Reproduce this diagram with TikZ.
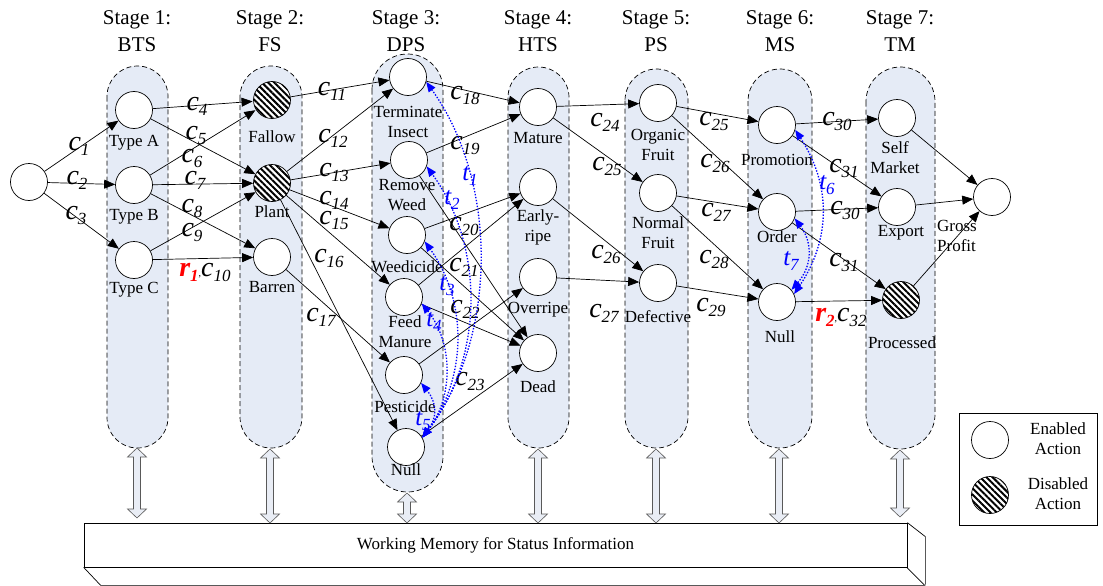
\documentclass[tikz,border=0pt]{standalone}
\usepackage{fontspec}
\setmainfont{Liberation Serif}
\usepackage{xcolor}
\usetikzlibrary{arrows.meta,patterns.meta}
\definecolor{lanefill}{RGB}{229,235,246}
\definecolor{arrfill}{RGB}{233,237,245}
\newcommand{\clab}[1]{{\fontsize{28}{28}\selectfont\itshape c}\raisebox{-5pt}{\fontsize{17}{17}\selectfont\itshape #1}}
\newcommand{\rlab}[1]{{\color{red}\bfseries\itshape{\fontsize{28}{28}\selectfont r}\raisebox{-5pt}{\fontsize{17}{17}\selectfont #1}}}
\newcommand{\tlab}[1]{{\color{blue}{\fontsize{25}{25}\selectfont\itshape t}\raisebox{-5pt}{\fontsize{17}{17}\selectfont\itshape #1}}}

\begin{document}
\begin{tikzpicture}[x=1pt,y=-1pt,
	lane/.style={draw,dash pattern=on 5pt off 3pt,fill=lanefill,line width=0.7pt},
	act/.style={circle,draw,fill=white,minimum size=37pt,inner sep=0pt,line width=0.7pt},
	off/.style={act,preaction={fill=white},pattern={Lines[angle=-45,distance=4.4pt,line width=2pt]}},
	lbl/.style={font=\fontsize{17}{20}\selectfont,align=center,inner sep=0pt},
	head/.style={font=\fontsize{21}{27}\selectfont,align=center,inner sep=0pt},
	flow/.style={-{Triangle[length=11pt,width=9pt]},line width=0.7pt},
	tie/.style={blue,line width=1.3pt,dash pattern=on 1.4pt off 1.6pt,{Triangle[length=10pt,width=8pt]}-{Triangle[length=10pt,width=8pt]}},
	memarr/.style={draw=black!65,fill=arrfill,line width=0.6pt}]
	\useasboundingbox (0,0) rectangle (1103,586);
% stage lanes
	\foreach \xa/\xb/\ya/\yb/\r in {107/168/66/448/30.5,240/302/66/448/31,372/443/54/492/35.5,508/569/67/448/30.5,625/688/69/448/31.5,748/812/69/448/32,866/935/67/449/34.5}
		\draw[lane,rounded corners=\r pt] (\xa,\ya) rectangle (\xb,\yb);
% stage titles
	\node[head] (st1) at (137,31) {Stage 1:\\BTS};
	\node[head] (st2) at (270,31) {Stage 2:\\FS};
	\node[head] (st3) at (406,31) {Stage 3:\\DPS};
	\node[head] (st4) at (538,31) {Stage 4:\\HTS};
	\node[head] (st5) at (656,31) {Stage 5:\\PS};
	\node[head] (st6) at (780,31) {Stage 6:\\MS};
	\node[head] (st7) at (900,31) {Stage 7:\\TM};
% working memory
	\node[draw,lbl,minimum width=823pt,minimum height=44pt,line width=0.7pt] (mem) at (495.5,545) {Working Memory for Status Information};
	\draw[line width=0.7pt] (mem.south west) -- ++(17,18) -- ++(824,0) -- ++(-18,-18);
	\draw[line width=0.7pt] (mem.north east) -- ++(18,14) -- ++(0,48);
	\foreach \x/\a/\b in {137/448/518,270/449/523,407/493/523,538/449/523,656/449/523,779/449/523,900/450/517}
		\draw[memarr] (\x,\a) -- (\x+9.5,\a+9) -- (\x+3.5,\a+9) -- (\x+3.5,\b-9) -- (\x+9.5,\b-9) -- (\x,\b) -- (\x-9.5,\b-9) -- (\x-3.5,\b-9) -- (\x-3.5,\a+9) -- (\x-9.5,\a+9) -- cycle;
% actions
	\node[act] (s0) at (29,182) {};
	\node[act] (tA) at (134,110) {};
	\node[act] (tB) at (134,185) {};
	\node[act] (tC) at (134,260) {};
	\node[off] (fal) at (272,100) {};
	\node[off] (pla) at (272,183) {};
	\node[act] (bar) at (272,257) {};
	\node[act] (d1) at (408,77) {};
	\node[act] (d2) at (409,160) {};
	\node[act] (d3) at (407,235) {};
	\node[act] (d4) at (404,297) {};
	\node[act] (d5) at (404,375) {};
	\node[act] (d6) at (406,447) {};
	\node[act] (h1) at (538,107) {};
	\node[act] (h2) at (538,187) {};
	\node[act] (h3) at (538,277) {};
	\node[act] (h4) at (538,353) {};
	\node[act] (p1) at (658,103) {};
	\node[act] (p2) at (658,193) {};
	\node[act] (p3) at (658,283) {};
	\node[act] (m1) at (777,125) {};
	\node[act] (m2) at (777,212) {};
	\node[act] (m3) at (777,302) {};
	\node[act] (k1) at (897,118) {};
	\node[act] (k2) at (897,207) {};
	\node[off] (k3) at (901,300) {};
	\node[act] (g) at (992,197) {};
% action names
	\node[lbl] (tAl) at (134,143) {Type A};
	\node[lbl] (tBl) at (134,217) {Type B};
	\node[lbl] (tCl) at (134,290) {Type C};
	\node[lbl] (fall) at (272,137) {Fallow};
	\node[lbl] (plal) at (272,212) {Plant};
	\node[lbl] (barl) at (272,287) {Barren};
	\node[lbl] (d1l) at (408,122) {Terminate\\Insect};
	\node[lbl] (d2l) at (407,195) {Remove\\Weed};
	\node[lbl] (d3l) at (407,267) {Weedicide};
	\node[lbl] (d4l) at (405,332) {Feed\\Manure};
	\node[lbl] (d5l) at (405,407) {Pesticide};
	\node[lbl] (d6l) at (406,470) {Null};
	\node[lbl] (h1l) at (538,138) {Mature};
	\node[lbl] (h2l) at (538,227) {Early-\\ripe};
	\node[lbl] (h3l) at (538,310) {Overripe};
	\node[lbl] (h4l) at (538,387) {Dead};
	\node[lbl] (p1l) at (658,145) {Organic\\Fruit};
	\node[lbl] (p2l) at (658,233) {Normal\\Fruit};
	\node[lbl] (p3l) at (658,317) {Defective};
	\node[lbl] (m1l) at (777,160) {Promotion};
	\node[lbl] (m2l) at (777,237) {Order};
	\node[lbl] (m3l) at (780,337) {Null};
	\node[lbl] (k1l) at (895,158) {Self\\Market};
	\node[lbl] (k2l) at (901,233) {Export};
	\node[lbl] (k3l) at (902,343) {Processed};
	\node[lbl,align=left] (gl) at (957,236) {Gross\\Profit};
% choices
	\draw[flow] (s0) -- (tA);
	\draw[flow] (s0) -- (tB);
	\draw[flow] (s0) -- (tC);
	\draw[flow] (tA) -- (fal);
	\draw[flow] (tA) -- (pla);
	\draw[flow] (tB) -- (fal);
	\draw[flow] (tB) -- (pla);
	\draw[flow] (tB) -- (bar);
	\draw[flow] (tC) -- (pla);
	\draw[flow] (tC) -- (bar);
	\draw[flow] (fal) -- (d1);
	\draw[flow] (pla) -- (d1);
	\draw[flow] (pla) -- (d2);
	\draw[flow] (pla) -- (d3);
	\draw[flow] (pla) -- (d4);
	\draw[flow] (pla) -- (d6);
	\draw[flow] (bar) -- (d5);
	\draw[flow] (d1) -- (h1);
	\draw[flow] (d2) -- (h1);
	\draw[flow] (d2) -- (h4);
	\draw[flow] (d3) -- (h2);
	\draw[flow] (d3) -- (h4);
	\draw[flow] (d4) -- (h2);
	\draw[flow] (d4) -- (h4);
	\draw[flow] (d5) -- (h3);
	\draw[flow] (d6) -- (h4);
	\draw[flow] (h1) -- (p1);
	\draw[flow] (h1) -- (p2);
	\draw[flow] (h2) -- (p3);
	\draw[flow] (h3) -- (p3);
	\draw[flow] (p1) -- (m1);
	\draw[flow] (p1) -- (m2);
	\draw[flow] (p2) -- (m2);
	\draw[flow] (p2) -- (m3);
	\draw[flow] (p3) -- (m3);
	\draw[flow] (m1) -- (k1);
	\draw[flow] (m1) -- (k2);
	\draw[flow] (m2) -- (k2);
	\draw[flow] (m2) -- (k3);
	\draw[flow] (m3) -- (k3);
	\draw[flow] (k1) -- (g);
	\draw[flow] (k2) -- (g);
	\draw[flow] (k3) -- (g);
% cost labels
	\node[inner sep=0pt] (lc1) at (79,146) {\clab{1}};
	\node[inner sep=0pt] (lc2) at (77,180) {\clab{2}};
	\node[inner sep=0pt] (lc3) at (76,215) {\clab{3}};
	\node[inner sep=0pt] (lc4) at (197,106) {\clab{4}};
	\node[inner sep=0pt] (lc5) at (196,135) {\clab{5}};
	\node[inner sep=0pt] (lc6) at (192,158) {\clab{6}};
	\node[inner sep=0pt] (lc7) at (195,180) {\clab{7}};
	\node[inner sep=0pt] (lc8) at (192,208) {\clab{8}};
	\node[inner sep=0pt] (lc9) at (192,232) {\clab{9}};
	\node[inner sep=0pt] (lc10) at (205,272) {\rlab{1},\clab{10}};
	\node[inner sep=0pt] (lc11) at (332,91) {\clab{11}};
	\node[inner sep=0pt] (lc12) at (333,138) {\clab{12}};
	\node[inner sep=0pt] (lc13) at (334,172) {\clab{13}};
	\node[inner sep=0pt] (lc14) at (334,200) {\clab{14}};
	\node[inner sep=0pt] (lc15) at (334,220) {\clab{15}};
	\node[inner sep=0pt] (lc16) at (329,258) {\clab{16}};
	\node[inner sep=0pt] (lc17) at (321,317) {\clab{17}};
	\node[inner sep=0pt] (lc18) at (465,95) {\clab{18}};
	\node[inner sep=0pt] (lc19) at (465,145) {\clab{19}};
	\node[inner sep=0pt] (lc20) at (464,226) {\clab{20}};
	\node[inner sep=0pt] (lc21) at (464,267) {\clab{21}};
	\node[inner sep=0pt] (lc22) at (465,309) {\clab{22}};
	\node[inner sep=0pt] (lc23) at (470,381) {\clab{23}};
	\node[inner sep=0pt] (lc24) at (605,122) {\clab{24}};
	\node[inner sep=0pt] (lc25) at (607,166) {\clab{25}};
	\node[inner sep=0pt] (lc26) at (606,254) {\clab{26}};
	\node[inner sep=0pt] (lc27) at (604,313) {\clab{27}};
	\node[inner sep=0pt] (lc25b) at (714,121) {\clab{25}};
	\node[inner sep=0pt] (lc26b) at (715,163) {\clab{26}};
	\node[inner sep=0pt] (lc27b) at (716,212) {\clab{27}};
	\node[inner sep=0pt] (lc28) at (714,259) {\clab{28}};
	\node[inner sep=0pt] (lc29) at (711,307) {\clab{29}};
	\node[inner sep=0pt] (lc30) at (837,121) {\clab{30}};
	\node[inner sep=0pt] (lc31) at (844,168) {\clab{31}};
	\node[inner sep=0pt] (lc30b) at (845,210) {\clab{30}};
	\node[inner sep=0pt] (lc31b) at (844,262) {\clab{31}};
	\node[inner sep=0pt] (lc32) at (841,317) {\rlab{2},\clab{32}};
% transitions to null
	\draw[tie] (d6.30) .. controls +(76,-100) and +(72,100) .. (d1.-15);
	\draw[tie] (d6.30) .. controls +(62,-80) and +(58,80) .. (d2.-20);
	\draw[tie] (d6.30) .. controls +(45,-60) and +(43,60) .. (d3.-20);
	\draw[tie] (d6.30) .. controls +(31,-40) and +(32,40) .. (d4.-20);
	\draw[tie] (d6.30) .. controls +(15,-20) and +(16,20) .. (d5.-25);
	\draw[tie] (m3.25) .. controls +(37,-55) and +(36,55) .. (m1.-15);
	\draw[tie] (m3.40) .. controls +(21,-24) and +(18,24) .. (m2.-20);
	\node[inner sep=0pt] (lt1) at (470,176) {\tlab{1}};
	\node[inner sep=0pt] (lt2) at (452,200) {\tlab{2}};
	\node[inner sep=0pt] (lt3) at (447,286) {\tlab{3}};
	\node[inner sep=0pt] (lt4) at (434,322) {\tlab{4}};
	\node[inner sep=0pt] (lt5) at (423,421) {\tlab{5}};
	\node[inner sep=0pt] (lt6) at (827,185) {\tlab{6}};
	\node[inner sep=0pt] (lt7) at (791,261) {\tlab{7}};
% legend
	\node[draw,minimum width=138pt,minimum height=112pt,line width=0.7pt] (key) at (1028,469) {};
	\node[act] (keyon) at (990,440) {};
	\node[off] (keyoff) at (990,495) {};
	\node[lbl] (keyonl) at (1058,439) {Enabled\\Action};
	\node[lbl] (keyoffl) at (1058,494) {Disabled\\Action};
\end{tikzpicture}
\end{document}
